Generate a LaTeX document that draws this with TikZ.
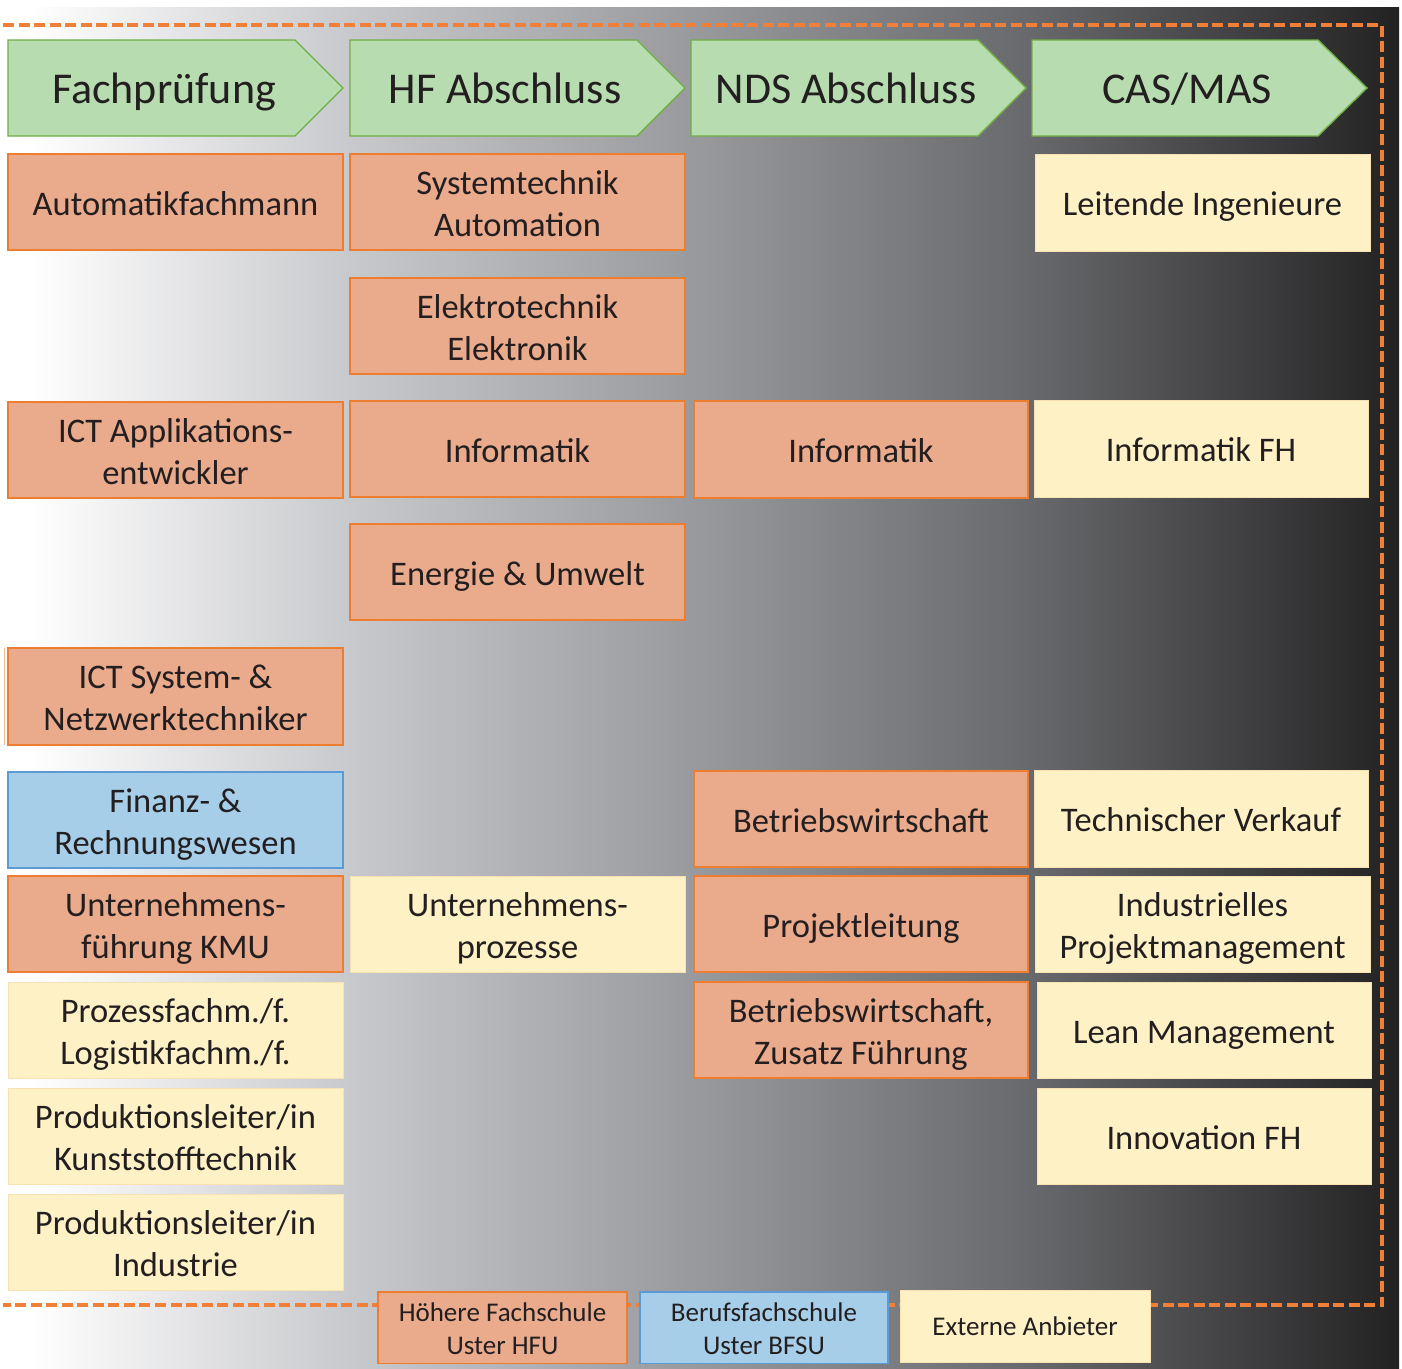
\documentclass[tikz,border=0pt]{standalone}
\usepackage{fontspec}
\setmainfont{Carlito}

\definecolor{hdrfill}{RGB}{182,220,176}
\definecolor{hdrline}{RGB}{112,173,71}
\definecolor{hfufill}{RGB}{234,170,140}
\definecolor{hfuline}{RGB}{237,125,49}
\definecolor{bfsufill}{RGB}{167,206,232}
\definecolor{bfsuline}{RGB}{91,155,213}
\definecolor{extfill}{RGB}{254,241,198}
\definecolor{extline}{RGB}{248,226,178}
\definecolor{dashcol}{RGB}{240,128,56}
\definecolor{inkcol}{RGB}{35,31,32}
\definecolor{bgA}{RGB}{200,201,204}
\definecolor{bgB}{RGB}{152,153,157}
\definecolor{bgC}{RGB}{104,105,108}
\definecolor{bgD}{RGB}{35,34,35}

% light-to-dark backdrop, stops between 25bp and 75bp span the filled area
\pgfdeclarehorizontalshading{bgshade}{100bp}{%
  color(0bp)=(white); color(25bp)=(white); color(26bp)=(white);
  color(37.5bp)=(bgA); color(50bp)=(bgB); color(61.8bp)=(bgC);
  color(75bp)=(bgD); color(100bp)=(bgD)}

\newcommand\boxsize{\fontsize{34.5}{42}\selectfont}
\newcommand\headsize{\fontsize{44}{52}\selectfont}
\newcommand\keysize{\fontsize{27}{33}\selectfont}
% struts on the first line (height) and last line (depth) so that the
% capitals of the text block sit in the middle of the tile
\newcommand\tx[1]{\rule{0pt}{36pt}#1\rule[-9.4pt]{0pt}{9.4pt}}
\newcommand\kx[1]{\rule{0pt}{29pt}#1\rule[-9.4pt]{0pt}{9.4pt}}

\tikzset{
  tile/.style={rectangle, anchor=north west, inner sep=0pt, outer sep=0pt,
    align=center, text=inkcol, font=\boxsize},
  hfu/.style={tile, fill=hfufill, draw=hfuline, line width=1.4pt},
  bfsu/.style={tile, fill=bfsufill, draw=bfsuline, line width=1.4pt},
  ext/.style={tile, fill=extfill, draw=extline, line width=1pt},
  keytile/.style={font=\keysize},
  head/.style={fill=hdrfill, draw=hdrline, line width=1.4pt, line join=miter},
  headtext/.style={anchor=base, inner sep=0pt, text=inkcol, font=\headsize},
  frame/.style={draw=dashcol, line width=3.5pt, dash pattern=on 11pt off 4.5pt},
}

\begin{document}
\begin{tikzpicture}[x=1pt, y=-1pt]
\useasboundingbox (0,0) rectangle (1402,1368);
\fill[white] (0,0) rectangle (1402,1368);
\shade[shading=bgshade] (0,7) rectangle (1399,1368);

% dashed frame
\draw[frame] (3,25) -- (1382,25) -- (1382,1305) -- (3,1305);

% column headers
\draw[head] (8,40) -- (295,40) -- (343,88) -- (295,136) -- (8,136) -- cycle;
\node[headtext] (hFach) at (164,103) {Fachprüfung};
\draw[head] (350,40) -- (637,40) -- (685,88) -- (637,136) -- (350,136) -- cycle;
\node[headtext] (hHF) at (505,103) {HF Abschluss};
\draw[head] (691,40) -- (978,40) -- (1026,88) -- (978,136) -- (691,136) -- cycle;
\node[headtext] (hNDS) at (846,103) {NDS Abschluss};
\draw[head] (1032,40) -- (1318,40) -- (1367,88) -- (1318,136) -- (1032,136) -- cycle;
\node[headtext] (hCAS) at (1187,103) {CAS/MAS};

% column 1: Fachprüfung
\node[hfu, minimum width=335, minimum height=96] (automatik) at (8,154) {\tx{Automatikfachmann}};
\node[hfu, minimum width=335, minimum height=96] (ictapp) at (8,402) {\tx{ICT Applikations-\\entwickler}};
\draw[hfuline!55, line width=0.8pt] (4,648) -- (4,745);
\node[hfu, minimum width=335, minimum height=97] (ictsys) at (8,648) {\tx{ICT System- \&\\Netzwerktechniker}};
\node[bfsu, minimum width=335, minimum height=96] (finanz) at (8,772) {\tx{Finanz- \&\\Rechnungswesen}};
\node[hfu, minimum width=335, minimum height=96] (ufkmu) at (8,876) {\tx{Unternehmens-\\führung KMU}};
\node[ext, minimum width=335, minimum height=96] (prozess) at (8,982) {\tx{Prozessfachm./f.\\Logistikfachm./f.}};
\node[ext, minimum width=335, minimum height=96] (plkunst) at (8,1088) {\tx{Produktionsleiter/in\\Kunststofftechnik}};
\node[ext, minimum width=335, minimum height=96] (plind) at (8,1194) {\tx{Produktionsleiter/in\\Industrie}};

% column 2: HF Abschluss
\node[hfu, minimum width=335, minimum height=96] (systech) at (350,154) {\tx{Systemtechnik\\Automation}};
\node[hfu, minimum width=335, minimum height=96] (elektro) at (350,278) {\tx{Elektrotechnik\\Elektronik}};
\node[hfu, minimum width=335, minimum height=96] (infhf) at (350,401) {\tx{Informatik}};
\node[hfu, minimum width=335, minimum height=96] (energie) at (350,524) {\tx{Energie \& Umwelt}};
\node[ext, minimum width=335, minimum height=96] (uprozess) at (350,876) {\tx{Unternehmens-\\prozesse}};

% column 3: NDS Abschluss
\node[hfu, minimum width=334, minimum height=97] (infnds) at (694,401) {\tx{Informatik}};
\node[hfu, minimum width=334, minimum height=96] (bwl) at (694,771) {\tx{Betriebswirtschaft}};
\node[hfu, minimum width=334, minimum height=96] (projekt) at (694,876) {\tx{Projektleitung}};
\node[hfu, minimum width=334, minimum height=96] (bwlfuehr) at (694,982) {\tx{Betriebswirtschaft,\\Zusatz Führung}};

% column 4: CAS/MAS
\node[ext, minimum width=335, minimum height=97] (leitend) at (1035,154) {\tx{Leitende Ingenieure}};
\node[ext, minimum width=334, minimum height=97] (inffh) at (1034,400) {\tx{Informatik FH}};
\node[ext, minimum width=334, minimum height=97] (verkauf) at (1034,770) {\tx{Technischer Verkauf}};
\node[ext, minimum width=335, minimum height=96] (ipm) at (1035,876) {\tx{Industrielles\\Projektmanagement}};
\node[ext, minimum width=334, minimum height=96] (lean) at (1037,982) {\tx{Lean Management}};
\node[ext, minimum width=334, minimum height=96] (innov) at (1037,1088) {\tx{Innovation FH}};

% key
\node[hfu, keytile, minimum width=249, minimum height=71] (keyhfu) at (378,1292) {\kx{Höhere Fachschule\\Uster HFU}};
\node[bfsu, keytile, minimum width=248, minimum height=70] (keybfsu) at (640,1292) {\kx{Berufsfachschule\\Uster BFSU}};
\node[ext, keytile, minimum width=250, minimum height=72] (keyext) at (900,1290) {\kx{Externe Anbieter}};
\end{tikzpicture}
\end{document}
